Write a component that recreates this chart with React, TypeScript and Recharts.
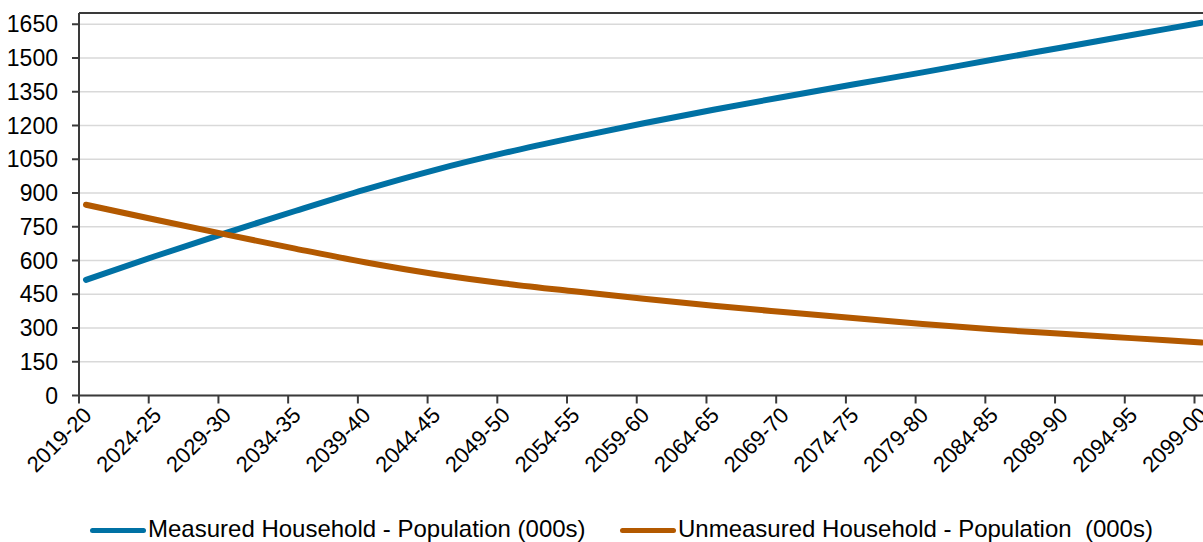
import {
   LineChart,
   Line,
   XAxis,
   YAxis,
   CartesianGrid,
   Legend,
   ReferenceLine,
} from "recharts";

// every 5th year
const YEARS = [
   "2019-20",
   "2024-25",
   "2029-30",
   "2034-35",
   "2039-40",
   "2044-45",
   "2049-50",
   "2054-55",
   "2059-60",
   "2064-65",
   "2069-70",
   "2074-75",
   "2079-80",
   "2084-85",
   "2089-90",
   "2094-95",
   "2099-00",
];
const MEASURED = [
   514, 620, 722, 820, 915, 1002, 1078, 1146, 1210, 1270, 1327, 1382, 1436,
   1492, 1547, 1602, 1657,
];
const UNMEASURED = [
   848, 781, 716, 653, 592, 540, 498, 463, 430, 399, 371, 344, 318, 294, 274,
   255, 236,
];
const Y_TICKS = [0, 150, 300, 450, 600, 750, 900, 1050, 1200, 1350, 1500, 1650];

const BLUE = "#0071a4";
const ORANGE = "#b35900";
const AXIS = "#3a3a3a";
const FONT = "'Liberation Sans', Arial, sans-serif";

const data = YEARS.map((year, i) => ({
   year,
   measured: MEASURED[i],
   unmeasured: UNMEASURED[i],
}));

// labels sit on the category, tick marks on the category boundary
const XTick = (props: any) => {
   const { x, y, payload } = props;
   const ax = x + 7;
   const ay = y + 21;
   return (
      <g>
         <line x1={x - 7} x2={x - 7} y1={y} y2={y + 8} stroke={AXIS} strokeWidth={2} />
         <text
            x={ax}
            y={ay}
            transform={`rotate(-45, ${ax}, ${ay})`}
            textAnchor="end"
            fill="#000"
            fontSize={22}
            fontFamily={FONT}
         >
            {payload.value}
         </text>
      </g>
   );
};

const LEGEND_X = [90, 620];

const renderLegend = (props: any) => {
   const { payload = [] } = props;
   return (
      <div style={{ position: "relative", width: 1203, height: 40, fontFamily: FONT, fontSize: 24, lineHeight: 1, color: "#000" }}>
         {payload.map((entry: any, i: number) => (
            <div key={`leg-${i}`}>
               <span
                  style={{
                     position: "absolute",
                     left: LEGEND_X[i],
                     top: 23,
                     width: 56,
                     height: 5,
                     borderRadius: 3,
                     background: entry.color,
                  }}
               />
               <span style={{ position: "absolute", left: LEGEND_X[i] + 58, top: 12, whiteSpace: "pre" }}>
                  {entry.value}
               </span>
            </div>
         ))}
      </div>
   );
};

export default function App() {
   return (
      <div
         style={{
            position: "absolute",
            left: 0,
            top: 0,
            width: 1203,
            height: 542,
            overflow: "hidden",
            background: "#fff",
         }}
      >
         <LineChart
            width={1215}
            height={542}
            data={data}
            margin={{ top: 13, right: 6.5, bottom: 0, left: 0 }}
         >
            <CartesianGrid vertical={false} stroke="#d9d9d9" strokeWidth={1.5} />
            <XAxis
               dataKey="year"
               height={146.5}
               padding={{ left: 7, right: 7 }}
               interval={0}
               tickSize={0}
               tickMargin={0}
               tickLine={false}
               axisLine={{ stroke: AXIS, strokeWidth: 2 }}
               tick={<XTick />}
            />
            <YAxis
               width={79}
               domain={[0, 1700]}
               ticks={Y_TICKS}
               interval={0}
               tickSize={7}
               tickMargin={14}
               tickLine={{ stroke: AXIS, strokeWidth: 2 }}
               axisLine={{ stroke: AXIS, strokeWidth: 2 }}
               tick={{ fill: "#000", fontSize: 23, fontFamily: FONT }}
            />
            <ReferenceLine y={1700} stroke={AXIS} strokeWidth={2} />
            <Legend
               layout="horizontal"
               verticalAlign="middle"
               align="center"
               wrapperStyle={{ left: 0, top: 505 }}
               content={renderLegend}
            />
            <Line
               type="monotone"
               dataKey="measured"
               name="Measured Household - Population (000s)"
               stroke={BLUE}
               strokeWidth={6}
               strokeLinecap="round"
               dot={false}
               isAnimationActive={false}
            />
            <Line
               type="monotone"
               dataKey="unmeasured"
               name="Unmeasured Household - Population  (000s)"
               stroke={ORANGE}
               strokeWidth={6}
               strokeLinecap="round"
               dot={false}
               isAnimationActive={false}
            />
         </LineChart>
      </div>
   );
}
